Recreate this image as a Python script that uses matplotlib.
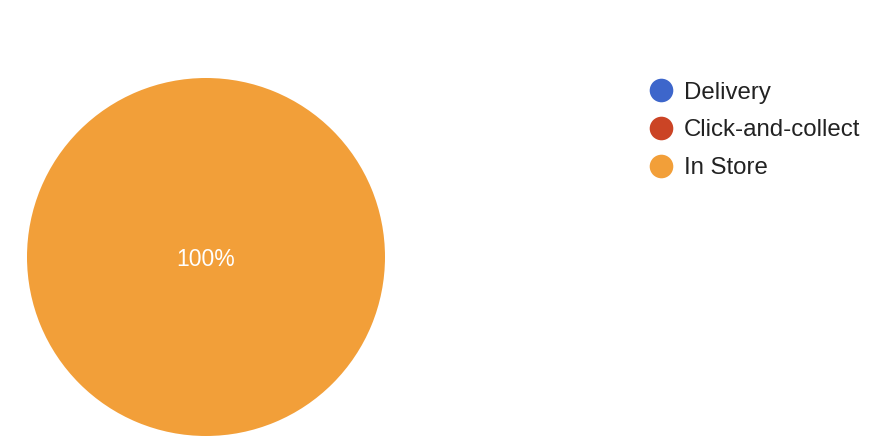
import matplotlib
matplotlib.use("Agg")
import matplotlib.pyplot as plt
from matplotlib.lines import Line2D

categories = ["Delivery", "Click-and-collect", "In Store"]
values = [0, 0, 100]
colors = ["#3d66cb", "#cb4425", "#f29f39"]

plt.rcParams['font.family'] = ['Liberation Sans', 'DejaVu Sans']

W, H = 874, 448
fig = plt.figure(figsize=(W / 100, H / 100), dpi=100)

cx, cy, r = 206, 257, 179
ax = fig.add_axes([(cx - r) / W, (H - cy - r) / H, 2 * r / W, 2 * r / H])
wedges, texts, autotexts = ax.pie(
    values, colors=colors, startangle=90, counterclock=False,
    autopct=lambda p: f"{p:.0f}%" if p > 0 else "",
    pctdistance=0.0, radius=1.0,
    wedgeprops=dict(linewidth=0),
    textprops=dict(color="white", fontsize=16.5))
for t in autotexts:
    t.set_va("center_baseline")
ax.set_xlim(-1, 1)
ax.set_ylim(-1, 1)
ax.set_aspect("equal")
ax.axis("off")

# legend
lx, ly0, dy = 661, 90, 38
for i, (cat, col) in enumerate(zip(categories, colors)):
    y = ly0 + i * dy
    fig.add_artist(Line2D([lx / W], [1 - y / H], marker="o", markersize=17,
                          markerfacecolor=col, markeredgewidth=0,
                          linestyle="none", transform=fig.transFigure))
    fig.text(684 / W, 1 - y / H, cat, fontsize=17.3, color="#222222",
             va="center_baseline", ha="left")

fig.savefig("out.png", dpi=100)
